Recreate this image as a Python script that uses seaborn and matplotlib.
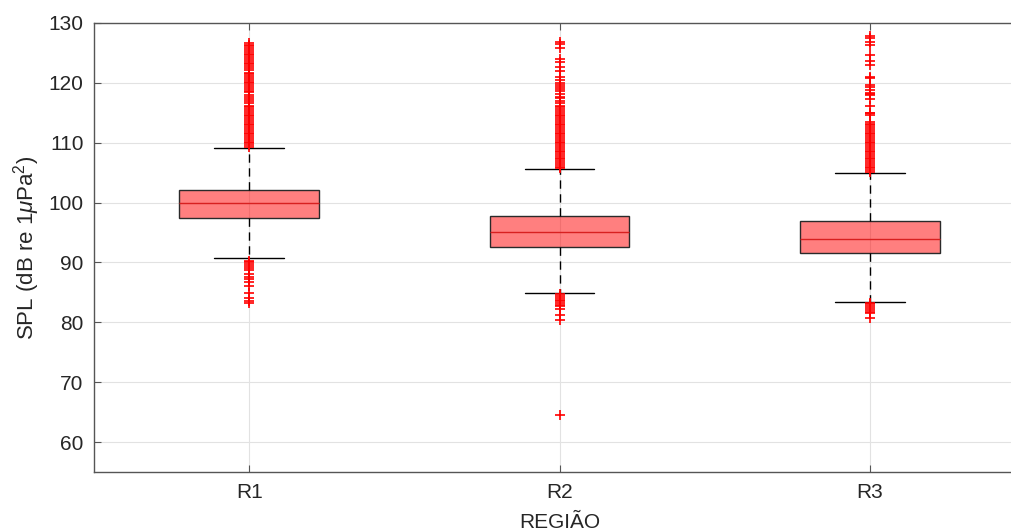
import pandas as pd
import matplotlib
matplotlib.use("Agg")
import matplotlib.pyplot as plt
import seaborn as sns

# ----------------------------------
# Data (dB re 1 uPa^2)
# ----------------------------------

regioes = ["R1", "R2", "R3"]

q1 = [97.4, 92.6, 91.5]
mediana = [99.95, 95.1, 93.85]
q3 = [102.1, 97.8, 96.9]
whisker_min = [90.7, 84.85, 83.45]
whisker_max = [109.1, 105.55, 104.95]

outliers_r1 = [
    109.3, 109.6, 109.9, 110.2, 110.5, 110.8, 111.1, 111.4, 111.7, 112.0,
    112.3, 112.6, 112.9, 113.2, 113.5, 113.8, 114.1, 114.4, 114.7, 115.0,
    115.3, 115.6, 115.9, 116.2, 116.7, 117.0, 117.3, 117.6, 117.9, 118.4,
    118.7, 119.0, 119.3, 119.6, 119.9, 120.2, 120.5, 120.8, 121.1, 121.4,
    121.7, 122.2, 122.5, 122.8, 123.1, 123.4, 123.7, 124.0, 124.3, 124.6,
    124.9, 125.2, 125.5, 125.8, 126.1, 126.4, 126.7,
    90.3, 90.0, 89.7, 89.4, 89.1, 88.8, 88.0, 87.6, 87.2, 86.8,
    86.05, 84.95, 84.1, 83.55, 83.3,
]

outliers_r2 = [
    105.7, 106.0, 106.3, 106.6, 106.9, 107.2, 107.5, 107.8, 108.1, 108.4,
    108.7, 109.0, 109.3, 109.6, 109.9, 110.2, 110.5, 110.8, 111.1, 111.4,
    111.7, 112.0, 112.3, 112.6, 112.9, 113.2, 113.5, 113.8, 114.1, 114.4,
    114.7, 115.0, 115.3, 115.6, 115.9, 116.2, 116.6, 117.0, 117.4, 117.7,
    118.2, 118.6, 119.0, 119.3, 119.6, 119.95, 120.5, 120.95, 121.9, 122.7,
    123.55, 123.95, 125.8, 126.5, 126.9,
    84.7, 84.4, 84.1, 83.8, 83.5, 83.2, 82.9, 82.7, 82.2, 81.3,
    80.4, 64.55,
]

outliers_r3 = [
    105.1, 105.4, 105.7, 106.0, 106.3, 106.6, 106.9, 107.2, 107.5, 107.8,
    108.1, 108.4, 108.7, 109.0, 109.3, 109.6, 109.9, 110.2, 110.5, 110.8,
    111.1, 111.4, 111.7, 112.0, 112.3, 112.6, 112.9, 113.2, 113.5,
    114.67, 114.9, 115.05, 116.17, 117.28, 118.0, 118.2, 118.39, 118.83,
    119.28, 119.67, 120.78, 121.06, 123.0, 123.67, 124.67, 126.33, 126.89,
    127.44, 127.83,
    83.3, 83.0, 82.7, 82.4, 82.1, 81.8, 81.6, 80.8,
]

outliers = [outliers_r1, outliers_r2, outliers_r3]

# ----------------------------------
# Long table for seaborn
# (quartile values weighted so the box matches the figure)
# ----------------------------------

n_peso = 1000

rows = []
for i, reg in enumerate(regioes):
    valores = (
        [whisker_min[i], whisker_max[i]]
        + [q1[i]] * n_peso
        + [mediana[i]] * n_peso
        + [q3[i]] * n_peso
        + outliers[i]
    )
    for v in valores:
        rows.append({"Regiao": reg, "SPL": v})

df = pd.DataFrame(rows)

# ----------------------------------
# Plot
# ----------------------------------

sns.set_theme(style="whitegrid")
plt.rcParams["font.family"] = ["Liberation Sans", "DejaVu Sans"]
plt.rcParams["mathtext.fontset"] = "custom"
plt.rcParams["mathtext.rm"] = "Liberation Sans"
plt.rcParams["mathtext.it"] = "Liberation Sans:italic"

fig = plt.figure(figsize=(10.12, 5.32), dpi=100)
ax = fig.add_axes([94 / 1012, 1 - 472 / 532, 931 / 1012, 449 / 532])

sns.boxplot(
    data=df,
    x="Regiao",
    y="SPL",
    ax=ax,
    width=0.45,
    saturation=1,
    whis=1.5,
    boxprops={"facecolor": (1, 0, 0, 0.5), "edgecolor": "#2a2a2a", "linewidth": 1},
    whiskerprops={"color": "black", "linestyle": (0, (6, 4)), "linewidth": 1},
    capprops={"color": "black", "linewidth": 1},
    medianprops={"color": "#d82020", "linewidth": 1},
    flierprops={
        "marker": "+",
        "markeredgecolor": "red",
        "markerfacecolor": "red",
        "markersize": 7.5,
        "markeredgewidth": 1.2,
    },
)

ax.set_ylim(55, 130)
ax.set_yticks(range(60, 131, 10))
ax.set_xlim(-0.5, 2.5)

ax.grid(True, color="#e2e2e2", linewidth=0.8)
ax.set_axisbelow(True)

for s in ax.spines.values():
    s.set_visible(True)
    s.set_color("#555555")
    s.set_linewidth(1)

ax.tick_params(
    axis="both", direction="in", length=5, width=0.8, color="#555555",
    labelsize=15, labelcolor="#262626",
    bottom=True, top=True, left=True, right=True,
)
ax.tick_params(axis="x", pad=8)
ax.tick_params(axis="y", pad=7.5)

ax.set_ylabel(r"SPL (dB re 1$\mu$Pa$^2$)", fontsize=16, color="#262626")
ax.set_xlabel("REGIÃO", fontsize=15, color="#262626")
ax.yaxis.set_label_coords(-0.056, 0.5)
ax.xaxis.set_label_coords(0.5, -0.091)

fig.savefig("out.png", dpi=100)
